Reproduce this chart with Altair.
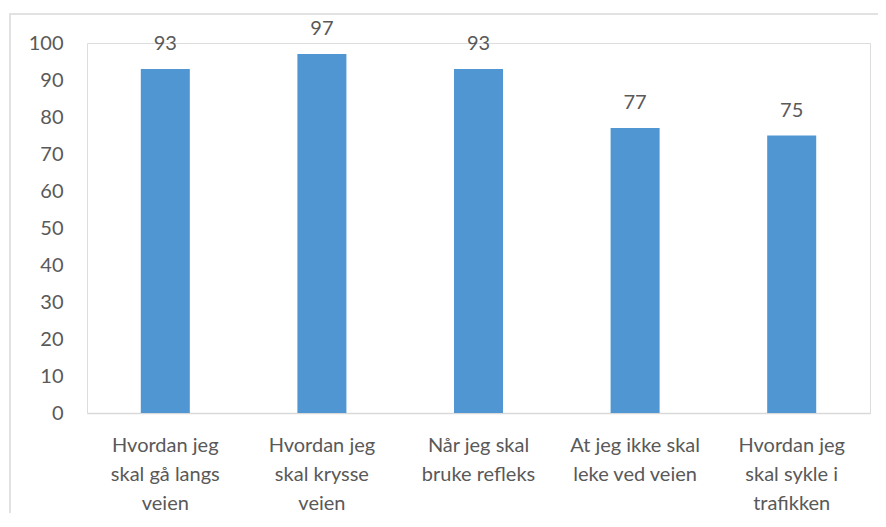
import altair as alt
import pandas as pd

categories = [
    "Hvordan jeg\nskal gå langs\nveien",
    "Hvordan jeg\nskal krysse\nveien",
    "Når jeg skal\nbruke refleks",
    "At jeg ikke skal\nleke ved veien",
    "Hvordan jeg\nskal sykle i\ntrafikken",
]
values = [93, 97, 93, 77, 75]
y_ticks = [0, 10, 20, 30, 40, 50, 60, 70, 80, 90, 100]

df = pd.DataFrame({"cat": categories, "val": values})

FONT = "Lato"
TXT = "#595959"
BAR = "#4F96D2"
FS = 20

x_enc = alt.X(
    "cat:N",
    sort=None,
    title=None,
    scale=alt.Scale(paddingInner=0.687, paddingOuter=0.3435),
    axis=alt.Axis(
        labelAngle=0,
        labelExpr="split(datum.label, '\\n')",
        labelFont=FONT,
        labelFontSize=FS,
        labelColor=TXT,
        labelLineHeight=29,
        labelPadding=22,
        labelBaseline="top",
        labelOverlap=False,
        ticks=False,
        domainColor="#D9D9D9",
        domainWidth=1.5,
        grid=False,
    ),
)
y_enc = alt.Y(
    "val:Q",
    title=None,
    scale=alt.Scale(domain=[0, 100], nice=False),
    axis=alt.Axis(
        values=y_ticks,
        tickCount=11,
        labelFont=FONT,
        labelFontSize=FS,
        labelColor=TXT,
        labelPadding=24,
        labelOverlap=False,
        labelBound=False,
        ticks=False,
        domain=False,
        grid=False,
    ),
)

base = alt.Chart(df).encode(x=x_enc, y=y_enc)
bars = base.mark_bar(color=BAR)
labels = base.mark_text(
    font=FONT, fontSize=FS, color=TXT, baseline="alphabetic", dy=-19
).encode(text="val:Q")

frame = alt.Chart(pd.DataFrame({"a": [0]})).mark_rect(
    fill=None, stroke="#D9D9D9", strokeWidth=1.5
).encode(
    x=alt.value(-77), x2=alt.value(900), y=alt.value(-29), y2=alt.value(600)
)

chart = (
    alt.layer(frame, bars, labels)
    .properties(
        width=783,
        height=370,
        padding={"left": 79, "top": 35, "right": 8, "bottom": 100},
        autosize=alt.AutoSizeParams(type="none"),
    )
    .configure_view(strokeWidth=0)
    .configure_axis(labelOverlap=False)
    .configure(background="white")
)

chart.save("out.html", embed_options={"renderer": "svg", "actions": False})
